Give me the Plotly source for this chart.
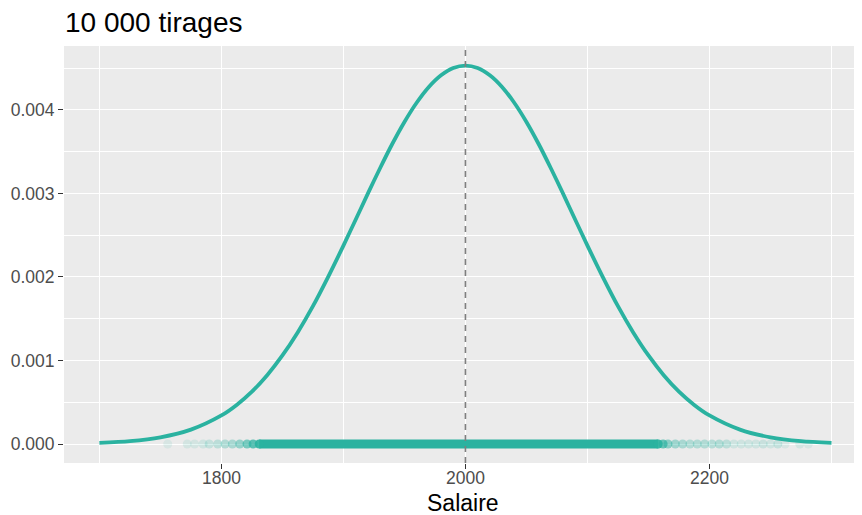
import plotly.graph_objects as go

# Density curve
curve_x = [1700, 1725, 1750, 1775, 1800, 1812.5, 1825, 1837.5, 1850, 1862.5, 1875, 1887.5,
           1900, 1910, 1920, 1930, 1940, 1950, 1960, 1970, 1980, 1990, 2000,
           2010, 2020, 2030, 2040, 2050, 2060, 2070, 2080, 2090, 2100,
           2112.5, 2125, 2137.5, 2150, 2162.5, 2175, 2187.5, 2200, 2225, 2250, 2275, 2300]
curve_y = [0.0000136, 0.0000343, 0.0000801, 0.000172, 0.000342, 0.000468, 0.000627, 0.000824,
           0.00106, 0.001336, 0.00165, 0.002001,
           0.002375, 0.002685, 0.002997, 0.003301, 0.003591, 0.003855, 0.004085, 0.004274,
           0.004414, 0.004501, 0.00453,
           0.004501, 0.004414, 0.004274, 0.004085, 0.003855, 0.003591, 0.003301, 0.002997,
           0.002685, 0.002375,
           0.002001, 0.00165, 0.001336, 0.00106, 0.000824, 0.000627, 0.000468, 0.000342,
           0.000172, 0.0000801, 0.0000343, 0.0000136]

# Rug of draws along y = 0: faint individual points and the saturated central band
rug_x = [1756, 1772, 1778, 1785, 1790, 1797, 1803, 1809, 1815, 1821, 1826, 1831,
         2158, 2162, 2166, 2172, 2178, 2184, 2190, 2196, 2202, 2208, 2214, 2220, 2226, 2232,
         2238, 2244, 2250, 2256, 2262, 2274, 2281]
rug_alpha = [0.10, 0.12, 0.12, 0.15, 0.20, 0.25, 0.30, 0.35, 0.45, 0.60, 0.75, 0.90,
             0.90, 0.70, 0.50, 0.40, 0.35, 0.30, 0.30, 0.30, 0.28, 0.30, 0.25, 0.15, 0.15, 0.15,
             0.15, 0.18, 0.15, 0.20, 0.10, 0.12, 0.10]
band_x = [1831, 2158]

mean_x = 2000
title_text = "10 000 tirages"
x_title = "Salaire"

teal = "#2AB2A0"
font_family = "Liberation Sans, Arial, sans-serif"

W, H = 854, 507          # page body adds an 8px offset
L, T, B = 56, 38, 52
plot_h = H - T - B

fig = go.Figure()

fig.add_trace(go.Scatter(
    x=band_x, y=[0, 0], mode="lines",
    line=dict(color=teal, width=9), hoverinfo="skip", showlegend=False))

fig.add_trace(go.Scatter(
    x=rug_x, y=[0] * len(rug_x), mode="markers",
    marker=dict(size=9, color=teal, opacity=rug_alpha, line=dict(width=0)),
    showlegend=False))

fig.add_trace(go.Scatter(
    x=curve_x, y=curve_y, mode="lines",
    line=dict(color=teal, width=3.8, shape="spline", smoothing=0.8),
    showlegend=False))

fig.add_shape(type="line", x0=mean_x, x1=mean_x, xref="x", y0=0, y1=1, yref="paper",
              line=dict(color="#7F7F7F", width=1.6, dash="6px,5px"), layer="above")

fig.add_annotation(text=x_title, x=0.5, xref="paper", xanchor="center",
                   y=-40 / plot_h, yref="paper", yanchor="middle", showarrow=False,
                   font=dict(size=23, color="black", family=font_family))

fig.update_layout(
    width=W, height=H,
    margin=dict(l=L, r=0, t=T, b=B, pad=0, autoexpand=False),
    paper_bgcolor="white", plot_bgcolor="#EBEBEB",
    font=dict(family=font_family, color="#4D4D4D", size=17.5),
    title=dict(text=title_text, x=57 / W, xref="container", xanchor="left",
               y=1 - 14 / H, yref="container", yanchor="middle", automargin=False,
               font=dict(size=28, color="black", family=font_family)),
    showlegend=False,
)

fig.update_xaxes(
    range=[1671, 2325], tick0=1800, dtick=200, tickformat="d", automargin=False,
    showgrid=True, gridcolor="white", gridwidth=1.4,
    minor=dict(dtick=100, tick0=1700, showgrid=True, gridcolor="white", gridwidth=0.7),
    zeroline=False, showline=False,
    ticks="outside", ticklen=5, tickcolor="#333333", tickwidth=1.1,
    ticklabelstandoff=-6,
    tickfont=dict(size=17.5, color="#4D4D4D"),
)
fig.update_yaxes(
    range=[-0.000227, 0.004764], tick0=0, dtick=0.001, tickformat=".3f", automargin=False,
    showgrid=True, gridcolor="white", gridwidth=1.4,
    minor=dict(dtick=0.0005, tick0=0.0005, showgrid=True, gridcolor="white", gridwidth=0.7),
    zeroline=False, showline=False,
    ticks="outside", ticklen=5, tickcolor="#333333", tickwidth=1.1,
    tickfont=dict(size=17.5, color="#4D4D4D"),
)

fig.write_html("out.html")
